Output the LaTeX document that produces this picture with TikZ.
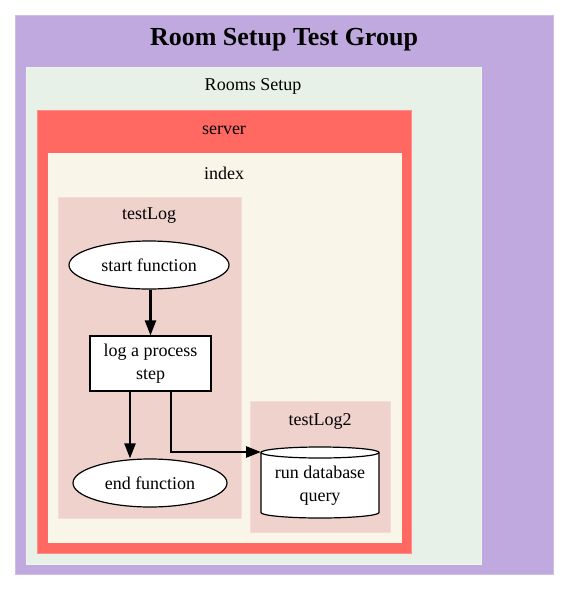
\documentclass[tikz,border=0pt]{standalone}
\usepackage{fontspec}
\setmainfont{Liberation Serif}
\usetikzlibrary{arrows.meta,shapes.geometric}
\definecolor{cpurple}{HTML}{BFA9DE}
\definecolor{cgreen}{HTML}{E8F1E8}
\definecolor{cred}{HTML}{FF6961}
\definecolor{cindex}{HTML}{FAF5E9}
\definecolor{ctest}{HTML}{F0D2CD}
\tikzset{
  cluster/.style={fill=#1, draw=#1!75!white, line width=0.8pt},
  lbl/.style={font=\fontsize{18}{20}\selectfont, inner sep=0pt},
  ttl/.style={font=\bfseries\fontsize{26}{28}\selectfont, inner sep=0pt},
  nodebox/.style={draw=black, fill=white, line width=1.2pt, font=\fontsize{18}{23}\selectfont, align=center, inner sep=0pt},
  edge/.style={line width=2.5pt, -{Triangle[length=15pt,width=11pt]}}
}
\begin{document}
\begin{tikzpicture}[x=1pt,y=-1pt]
\useasboundingbox (0,0) rectangle (568,590);
\fill[white] (0,0) rectangle (568,590);
% clusters
\draw[cluster=cpurple] (15,15) rectangle (553,574);
\draw[cluster=cgreen] (26,67) rectangle (481,564);
\draw[cluster=cred] (37,110) rectangle (411,553);
\draw[cluster=cindex] (48,153) rectangle (401,542);
\draw[cluster=ctest] (58,197) rectangle (241,518);
\draw[cluster=ctest] (250,401) rectangle (390,532);
% labels
\node[ttl] (title) at (284,40) {Room Setup Test Group};
\node[lbl] (lrooms) at (253,86) {Rooms Setup};
\node[lbl] (lserver) at (224,130) {server};
\node[lbl] (lindex) at (224,173) {index};
\node[lbl] (ltest) at (149,216) {testLog};
\node[lbl] (ltest2) at (320,421) {testLog2};
% nodes
\node[nodebox, ellipse, minimum width=160, minimum height=48] (start) at (149,265) {start function};
\node[nodebox, rectangle, minimum width=121, minimum height=55, text depth=3pt] (log) at (150.5,363.5) {log a process\\step};
\node[nodebox, ellipse, minimum width=154, minimum height=48] (end) at (150,483) {end function};
% cylinder
\draw[fill=white, line width=1.2pt]
  (261,452.5) -- (261,512.5) arc[start angle=180, end angle=0, x radius=59, y radius=5.5]
  -- (379,452.5) arc[start angle=0, end angle=-180, x radius=59, y radius=5.5] -- cycle;
\draw[line width=1.2pt] (261,452.5) arc[start angle=180, end angle=0, x radius=59, y radius=5.5];
\node[font=\fontsize{18}{23}\selectfont, align=center, inner sep=0pt, minimum width=118, minimum height=71, text depth=3pt] (db) at (320,485) {run database\\query};
\coordinate (dbin) at (261,452);
\coordinate (xa) at (130,0);
\coordinate (xb) at (171,0);
\coordinate (xc) at (150.5,0);
% edges
\draw[edge] (start.south -| xc) -- (log.north);
\draw[edge] (log.south -| xa) -- (end.north -| xa);
\draw[edge] (log.south -| xb) |- (dbin);
\end{tikzpicture}
\end{document}
